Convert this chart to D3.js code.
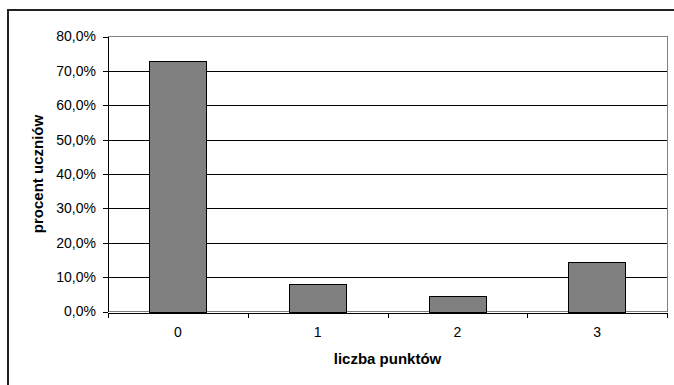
<!DOCTYPE html>
<html>
<head>
<meta charset="utf-8">
<script src="https://cdn.jsdelivr.net/npm/d3@7"></script>
<style>
  body { margin: 0; background: #fff; }
  text { font-family: "Liberation Sans", Arial, sans-serif; }
</style>
</head>
<body>
<div id="chart"></div>
<script>
const categories = ["0", "1", "2", "3"];
const values = [73.0, 8.0, 4.5, 14.5];
const yTicks = [0, 10, 20, 30, 40, 50, 60, 70, 80];

const width = 674, height = 385;
const plot = { left: 108, right: 667, top: 36.5, bottom: 311.5 };

const svg = d3.select("#chart").append("svg")
    .attr("width", width)
    .attr("height", height)
    .style("display", "block");

// Outer chart border (runs off the right and bottom edge)
svg.append("rect")
    .attr("x", 8)
    .attr("y", 10)
    .attr("width", 700)
    .attr("height", 400)
    .attr("fill", "#fff")
    .attr("stroke", "#222")
    .attr("stroke-width", 2);

const x = d3.scaleBand()
    .domain(categories)
    .range([plot.left, plot.right])
    .paddingInner(0.59)
    .paddingOuter(0.295);

const xEdge = d3.scaleLinear()
    .domain([0, categories.length])
    .range([plot.left, plot.right]);

const y = d3.scaleLinear()
    .domain([0, 80])
    .range([plot.bottom, plot.top]);

// Plot area border
svg.append("rect")
    .attr("x", plot.left)
    .attr("y", plot.top)
    .attr("width", plot.right - plot.left)
    .attr("height", plot.bottom - plot.top)
    .attr("fill", "none")
    .attr("stroke", "#808080")
    .attr("stroke-width", 1)
    .attr("shape-rendering", "crispEdges");

// Grid lines
svg.append("g")
    .selectAll("line")
    .data(yTicks.filter(d => d > 0 && d < 80))
    .join("line")
    .attr("x1", plot.left)
    .attr("x2", plot.right)
    .attr("y1", d => Math.round(y(d)) + 0.5)
    .attr("y2", d => Math.round(y(d)) + 0.5)
    .attr("stroke", "#000")
    .attr("stroke-width", 1);

// Bars
svg.append("g")
    .selectAll("rect")
    .data(values)
    .join("rect")
    .attr("x", (d, i) => Math.round(x(categories[i])) + 0.5)
    .attr("y", d => Math.round(y(d)) + 0.5)
    .attr("width", Math.round(x.bandwidth()))
    .attr("height", d => Math.round(y(0)) - Math.round(y(d)))
    .attr("fill", "#808080")
    .attr("stroke", "#000")
    .attr("stroke-width", 1);

// Y axis
const yAxis = svg.append("g")
    .attr("transform", `translate(${plot.left},0)`)
    .call(d3.axisLeft(y)
        .tickValues(yTicks)
        .tickSize(5)
        .tickPadding(7)
        .tickFormat(d => d.toFixed(1).replace(".", ",") + "%"));
yAxis.selectAll("path, line").attr("stroke", "#000").attr("shape-rendering", "crispEdges");
yAxis.select(".domain").attr("d", `M0.5,${plot.top}V${plot.bottom}`);
yAxis.selectAll("text")
    .attr("font-size", 14)
    .attr("font-family", "Liberation Sans, Arial, sans-serif")
    .attr("fill", "#000");

// X axis: ticks at category edges
const xAxis = svg.append("g")
    .attr("transform", `translate(0,${Math.round(plot.bottom) + 0.5})`)
    .call(d3.axisBottom(xEdge)
        .tickValues(d3.range(categories.length + 1))
        .tickSize(5)
        .tickSizeOuter(0)
        .tickFormat(""));
xAxis.selectAll("path, line").attr("stroke", "#000").attr("shape-rendering", "crispEdges");

// X category labels
svg.append("g")
    .selectAll("text")
    .data(categories)
    .join("text")
    .attr("x", d => x(d) + x.bandwidth() / 2)
    .attr("y", 337)
    .attr("text-anchor", "middle")
    .attr("font-size", 14)
    .attr("fill", "#000")
    .text(d => d);

// Axis titles
svg.append("text")
    .attr("x", (plot.left + plot.right) / 2)
    .attr("y", 364)
    .attr("text-anchor", "middle")
    .attr("font-size", 15)
    .attr("font-weight", "bold")
    .attr("fill", "#000")
    .text("liczba punktów");

svg.append("text")
    .attr("transform", "translate(43,174) rotate(-90)")
    .attr("text-anchor", "middle")
    .attr("font-size", 15)
    .attr("font-weight", "bold")
    .attr("fill", "#000")
    .text("procent uczniów");
</script>
</body>
</html>
